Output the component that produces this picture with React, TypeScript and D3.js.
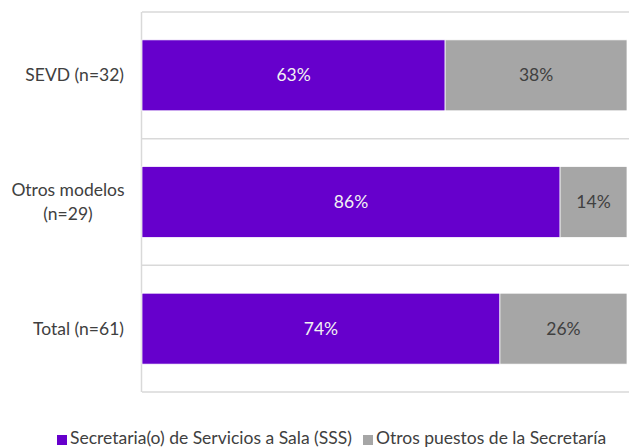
import * as d3 from "d3";

const categories = ["SEVD (n=32)", "Otros modelos\n(n=29)", "Total (n=61)"];
const sssValues = [62.5, 86.2, 73.8];
const otrosValues = [37.5, 13.8, 26.2];
const seriesNames = ["Secretaria(o) de Servicios a Sala (SSS)", "Otros puestos de la Secretaría"];
const seriesColors = ["#6600CC", "#A6A6A6"];

const W = 629;
const H = 448;
const FONT = "Lato, 'Open Sans', sans-serif";
const FS = 17.5;

export default function App() {
  const x = d3.scaleLinear().domain([0, 100]).range([142, 627]);
  const y = d3.scaleBand<string>().domain(categories).range([12, 392]).paddingInner(0.44).paddingOuter(0.22);
  const step = y.step();
  const bounds = d3.range(categories.length + 1).map((i) => 12 + i * step);

  const stacked = categories.map((c, i) => {
    const a = sssValues[i];
    const b = otrosValues[i];
    return [
      { key: c, x0: 0, x1: a, v: a, color: seriesColors[0], text: "#F2F2F2" },
      { key: c, x0: a, x1: a + b, v: b, color: seriesColors[1], text: "#404040" },
    ];
  });

  return (
    <svg width={W} height={H} style={{ position: "absolute", left: 0, top: 0 }} fontFamily={FONT}>
      <rect width={W} height={H} fill="#fff" />
      {/* gridlines */}
      {bounds.map((b, i) => (
        <line key={i} x1={x(0)} x2={W} y1={b} y2={b} stroke="#D9D9D9" strokeWidth={1.5} />
      ))}
      <line x1={x(0) - 0.5} x2={x(0) - 0.5} y1={bounds[0]} y2={bounds[bounds.length - 1]} stroke="#D9D9D9" strokeWidth={1.5} />
      {/* bars */}
      {stacked.map((segs, i) =>
        segs.map((s, j) => (
          <g key={`${i}-${j}`}>
            <rect
              x={x(s.x0)}
              y={y(s.key)!}
              width={x(s.x1) - x(s.x0)}
              height={y.bandwidth()}
              fill={s.color}
              stroke="#fff"
              strokeWidth={0.75}
            />
            <text
              x={(x(s.x0) + x(s.x1)) / 2}
              y={y(s.key)! + y.bandwidth() / 2}
              dy="0.35em"
              textAnchor="middle"
              fontSize={FS}
              fill={s.text}
            >
              {Math.round(s.v)}%
            </text>
          </g>
        ))
      )}
      {/* category labels */}
      {categories.map((c) => {
        const lines = c.split("\n");
        const cy = y(c)! + y.bandwidth() / 2;
        const multi = lines.length > 1;
        return (
          <text key={c} fontSize={FS} fill="#404040" textAnchor={multi ? "middle" : "end"}>
            {lines.map((l, k) => (
              <tspan key={k} x={multi ? 68 : 124} y={cy + (k - (lines.length - 1) / 2) * 24} dy="0.35em">
                {l}
              </tspan>
            ))}
          </text>
        );
      })}
      {/* legend */}
      {seriesNames.map((n, i) => {
        const lx = i === 0 ? 57 : 363;
        return (
          <g key={n}>
            <rect x={lx} y={435} width={10} height={10} fill={seriesColors[i]} />
            <text x={lx + 13} y={444} fontSize={FS} fill="#404040">
              {n}
            </text>
          </g>
        );
      })}
    </svg>
  );
}
